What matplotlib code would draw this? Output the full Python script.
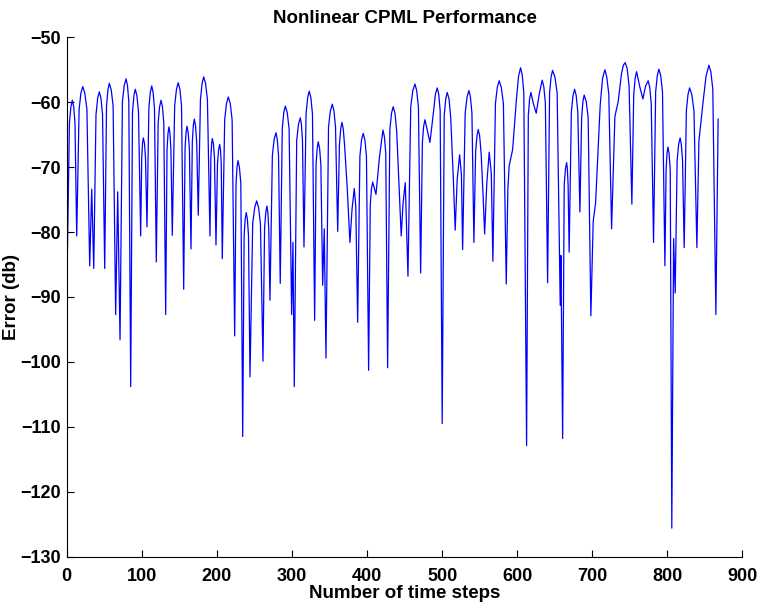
import matplotlib
matplotlib.use("Agg")
import matplotlib.pyplot as plt

# error trace (peaks, troughs and arc shoulders)
time_step = [
    1, 3.6, 5.6, 7.5, 9.3, 11.0, 13.3, 16.5, 18.9, 21.3,
    24.1, 26.9, 30.6, 33.3, 36.0, 39.0, 41.2, 43.4, 45.6, 47.7,
    50.6, 53.0, 54.9, 56.7, 59.3, 61.8, 65.2, 67.9, 71.0, 74.2,
    76.6, 79.0, 80.9, 82.7, 85.2, 87.6, 89.5, 91.3, 93.5, 95.6,
    98.5, 99.9, 101.0, 102.0, 103.5, 104.9, 106.9, 109.4, 111.3, 113.2,
    115.1, 116.9, 119.3, 121.8, 123.7, 125.6, 127.5, 129.3, 131.8, 133.6,
    134.9, 136.2, 137.5, 138.8, 140.6, 143.8, 146.2, 148.5, 150.7, 152.9,
    155.8, 157.6, 158.9, 160.2, 161.8, 163.4, 165.5, 167.3, 168.6, 169.9,
    171.5, 173.1, 175.2, 178.1, 180.3, 182.4, 184.9, 187.4, 190.8, 192.0,
    193.0, 193.9, 195.4, 196.8, 198.8, 200.8, 202.3, 203.7, 204.8, 205.8,
    207.2, 210.4, 212.8, 215.2, 217.8, 220.3, 223.7, 225.5, 226.8, 228.1,
    230.0, 231.9, 234.4, 236.3, 237.7, 239.1, 240.6, 242.1, 244.1, 247.7,
    250.4, 253.0, 255.5, 258.0, 261.4, 263.5, 265.1, 266.7, 267.9, 269.1,
    270.7, 273.9, 276.3, 278.7, 280.4, 282.1, 284.4, 287.1, 289.1, 291.1,
    293.7, 296.2, 299.6, 301.3, 303.1, 306.3, 308.7, 311.1, 312.6, 314.0,
    316.0, 318.8, 320.9, 323.0, 325.2, 327.3, 330.2, 332.1, 333.6, 335.0,
    336.8, 338.5, 340.9, 343.0, 345.3, 348.7, 351.2, 353.7, 355.9, 358.0,
    360.9, 363.2, 364.9, 366.6, 368.3, 370.0, 373.5, 377.2, 380.0, 383.0,
    385.0, 387.5, 390.5, 392.7, 394.9, 397.1, 399.2, 402.1, 404.3, 405.9,
    407.5, 411.9, 416.5, 421.2, 423.1, 424.9, 427.4, 430.4, 432.6, 434.8,
    437.2, 439.5, 443.0, 445.5, 448.0, 450.9, 454.5, 458.2, 461.0, 463.8,
    466.1, 468.4, 471.4, 473.7, 475.4, 477.1, 480.5, 483.8, 488.5, 491.0,
    493.5, 495.5, 497.4, 500.1, 502.8, 504.8, 506.8, 509.2, 511.5, 515.0,
    517.4, 520.0, 523.3, 525.7, 527.3, 530.7, 533.2, 535.7, 537.7, 539.7,
    542.3, 544.6, 546.4, 548.1, 550.0, 552.0, 554.8, 556.6, 559.5, 562.7,
    565.5, 567.6, 571.0, 573.5, 576.0, 578.8, 581.6, 585.4, 587.5, 589.3,
    593.9, 599.0, 601.8, 604.5, 606.7, 608.8, 612.5, 614.8, 616.5, 618.2,
    621.5, 625.3, 629.3, 633.3, 635.4, 637.5, 640.5, 643.1, 645.1, 647.1,
    650.2, 653.2, 657.3, 658.2, 660.5, 662.6, 664.2, 665.8, 666.8, 667.8,
    669.2, 672.1, 674.3, 676.4, 678.6, 680.7, 683.5, 685.8, 687.5, 689.2,
    691.9, 694.5, 698.1, 701.2, 704.4, 710.5, 713.7, 716.8, 719.4, 722.0,
    725.7, 730.1, 734.5, 739.0, 741.4, 743.8, 746.4, 749.0, 752.7, 755.2,
    757.1, 759.0, 763.0, 767.4, 771.0, 774.4, 776.5, 778.5, 781.6, 784.4,
    786.6, 788.7, 791.1, 793.5, 796.7, 798.3, 799.5, 800.7, 802.3, 803.8,
    805.9, 808.3, 810.4, 813.0, 815.0, 817.0, 818.6, 820.2, 822.4, 825.3,
    827.5, 829.6, 832.5, 835.4, 839.3, 842.0, 847.5, 851.5, 855.3, 857.9,
    860.5, 864.6, 867.6,
]
error_db = [
    -82.7, -63.2, -60.7, -59.7, -60.7, -63.2, -80.6, -61.1, -58.6, -57.6,
    -58.6, -61.1, -85.2, -73.4, -85.6, -61.9, -59.4, -58.4, -59.4, -61.9,
    -85.6, -60.6, -58.1, -57.1, -58.1, -60.6, -92.7, -73.8, -96.6, -59.9,
    -57.4, -56.4, -57.4, -59.9, -103.8, -61.5, -59.0, -58.0, -59.0, -61.5,
    -80.6, -68.5, -66.3, -65.5, -66.3, -68.5, -79.2, -61.0, -58.5, -57.5,
    -58.5, -61.0, -84.6, -63.2, -60.7, -59.7, -60.7, -63.2, -92.7, -67.3,
    -64.8, -63.8, -64.8, -67.3, -80.5, -60.5, -58.0, -57.0, -58.0, -60.5,
    -88.8, -67.2, -64.7, -63.7, -64.7, -67.2, -82.6, -66.1, -63.6, -62.6,
    -63.6, -66.1, -77.4, -59.6, -57.1, -56.1, -57.1, -59.6, -80.6, -68.6,
    -66.4, -65.6, -66.4, -68.6, -82.0, -69.5, -67.3, -66.5, -67.3, -69.5,
    -84.1, -62.7, -60.2, -59.2, -60.2, -62.7, -96.0, -72.5, -70.0, -69.0,
    -70.0, -72.5, -111.5, -80.5, -78.0, -77.0, -78.0, -80.5, -102.3, -78.7,
    -76.2, -75.2, -76.2, -78.7, -99.9, -79.5, -77.0, -76.0, -77.0, -79.5,
    -90.5, -68.2, -65.7, -64.7, -65.7, -68.2, -87.9, -64.1, -61.6, -60.6,
    -61.6, -64.1, -92.7, -81.6, -103.8, -65.9, -63.4, -62.4, -63.4, -65.9,
    -82.3, -61.8, -59.3, -58.3, -59.3, -61.8, -93.6, -69.6, -67.1, -66.1,
    -67.1, -69.6, -88.2, -79.5, -99.4, -63.8, -61.3, -60.3, -61.3, -63.8,
    -79.9, -66.6, -64.1, -63.1, -64.1, -66.5, -73.0, -81.6, -76.5, -73.3,
    -76.0, -93.9, -68.3, -65.8, -64.8, -65.8, -68.3, -101.3, -75.8, -73.3,
    -72.3, -74.2, -68.5, -64.3, -65.3, -67.8, -100.9, -64.2, -61.7, -60.7,
    -61.7, -64.5, -74.0, -80.6, -75.5, -72.4, -86.8, -60.7, -58.2, -57.2,
    -58.2, -60.7, -86.3, -66.2, -63.7, -62.7, -64.5, -66.2, -61.5, -58.8,
    -57.8, -58.8, -61.3, -109.5, -62.0, -59.5, -58.5, -59.5, -62.5, -72.0,
    -79.7, -72.0, -68.1, -71.1, -82.7, -61.7, -59.2, -58.2, -59.2, -61.7,
    -81.6, -67.7, -65.2, -64.2, -65.2, -68.0, -75.0, -80.3, -72.5, -67.7,
    -71.0, -84.5, -60.2, -57.7, -56.7, -57.7, -60.2, -88.0, -73.5, -69.8,
    -67.3, -59.5, -56.0, -54.7, -55.8, -58.5, -112.9, -62.0, -59.5, -58.5,
    -60.2, -61.7, -58.8, -56.6, -57.6, -60.1, -87.8, -58.6, -56.1, -55.1,
    -56.1, -58.6, -91.3, -83.6, -111.8, -72.8, -70.3, -69.3, -70.3, -72.8,
    -83.1, -61.5, -59.0, -58.0, -59.0, -61.5, -76.9, -62.4, -59.9, -58.9,
    -59.9, -62.4, -92.9, -78.4, -75.5, -60.5, -56.3, -55.0, -56.2, -58.8,
    -79.5, -62.2, -59.9, -55.5, -54.3, -53.9, -54.8, -57.5, -75.7, -58.8,
    -56.3, -55.3, -57.5, -59.5, -57.5, -56.7, -57.7, -60.2, -81.6, -58.4,
    -55.9, -54.9, -55.9, -58.4, -85.2, -70.4, -67.9, -66.9, -67.9, -70.4,
    -125.6, -81.0, -89.4, -69.0, -66.5, -65.5, -66.5, -69.0, -82.4, -61.3,
    -58.8, -57.8, -58.8, -61.3, -82.4, -66.0, -60.0, -56.0, -54.3, -55.3,
    -58.0, -92.7, -62.6,
]
x_ticks = list(range(0, 901, 100))
y_ticks = list(range(-130, -49, 10))

plt.rcParams["font.family"] = ["Liberation Sans", "DejaVu Sans"]
plt.rcParams["font.weight"] = "bold"
plt.rcParams["font.size"] = 13

fig = plt.figure(figsize=(7.59, 6.08), dpi=100)
ax = fig.add_axes([0.0879, 0.0844, 0.8903, 0.8543])

ax.plot(time_step, error_db, color="#0000ff", linewidth=0.9)

ax.set_xlim(0, 900)
ax.set_ylim(-130, -50)
ax.set_xticks(x_ticks)
ax.set_yticks(y_ticks)
ax.tick_params(direction="in", length=5, width=0.8, colors="black")
ax.tick_params(axis="x", pad=8)
ax.tick_params(axis="y", pad=4)
for lbl in ax.get_xticklabels() + ax.get_yticklabels():
    lbl.set_fontweight("bold")

for side in ["top", "right"]:
    ax.spines[side].set_visible(False)
for side in ["left", "bottom"]:
    ax.spines[side].set_linewidth(0.8)

ax.set_title("Nonlinear CPML Performance", fontweight="bold", fontsize=13.5, pad=10)
ax.set_xlabel("Number of time steps", fontweight="bold", fontsize=13.5)
ax.set_ylabel("Error (db)", fontweight="bold", fontsize=13.5)
ax.xaxis.set_label_coords(0.5, -0.055)
ax.yaxis.set_label_coords(-0.069, 0.5)

fig.savefig("out.png", dpi=100)
